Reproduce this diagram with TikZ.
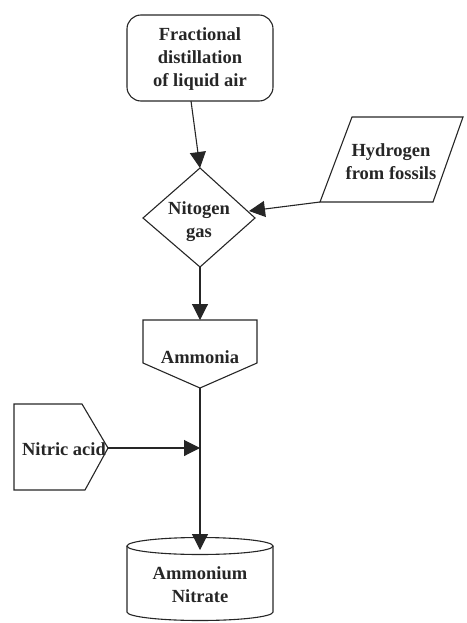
\documentclass[tikz,border=0pt]{standalone}
\usepackage{fontspec}
\setmainfont{Liberation Serif}
\usetikzlibrary{arrows.meta}
\begin{document}
\begin{tikzpicture}[x=1pt,y=1pt,
  shp/.style={draw=black!85, line width=1.1pt, line join=miter},
  lbl/.style={font=\fontsize{18.5}{23}\selectfont\bfseries, align=center, inner sep=0pt, text=black!85},
  conn/.style={draw=black!85, line width=1.1pt, -{Triangle[length=16pt,width=16pt]}}
]
\useasboundingbox (0,0) rectangle (466,-623);
% Top rounded box
\draw[shp, rounded corners=14pt] (127,-15) rectangle (273,-101);
\node[lbl] (frac) at (200,-59) {Fractional\\distillation\\of liquid air};
\coordinate (fracS) at (191,-101);
% Diamond
\draw[shp] (200,-168) -- (255,-218) -- (200,-267) -- (143,-218) -- cycle;
\node[lbl] (nit) at (199,-222) {Nitogen\\gas};
\coordinate (nitN) at (200,-168);
\coordinate (nitE) at (249,-211);
\coordinate (nitS) at (200,-267);
% Parallelogram
\draw[shp] (352,-117) -- (463,-117) -- (433,-202) -- (320,-202) -- cycle;
\node[lbl] (hyd) at (391,-162) {Hydrogen\\from fossils};
\coordinate (hydSW) at (320,-202);
% Ammonia pentagon
\draw[shp] (143,-320) -- (257,-320) -- (257,-363) -- (200,-388) -- (143,-363) -- cycle;
\node[lbl] (amm) at (200,-357) {Ammonia};
\coordinate (ammN) at (200,-320);
\coordinate (ammS) at (200,-388);
% Nitric acid pentagon
\draw[shp] (14,-404) -- (82,-404) -- (108,-448) -- (85,-490) -- (14,-490) -- cycle;
\node[lbl] (acid) at (64,-449) {Nitric acid};
\coordinate (acidE) at (108,-448);
\coordinate (join) at (200,-448);
% Cylinder
\draw[shp] (127,-546) -- (127,-612) arc[start angle=180, end angle=360, x radius=73, y radius=8.5] -- (273,-546);
\draw[shp] (200,-546) ellipse[x radius=73, y radius=8.5];
\node[lbl] (an) at (200,-585) {Ammonium\\Nitrate};
\coordinate (anN) at (200,-550);
% Connectors
\draw[conn] (fracS) -- (nitN);
\draw[conn] (hydSW) -- (nitE);
\draw[conn] (nitS) -- (ammN);
\draw[conn] (ammS) -- (anN);
\draw[conn] (acidE) -- (join);
\end{tikzpicture}
\end{document}
